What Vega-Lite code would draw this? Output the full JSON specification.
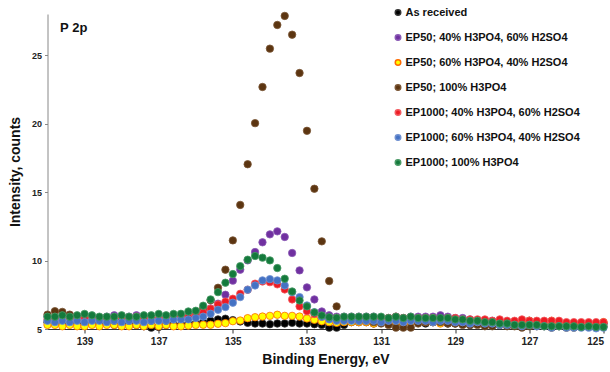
{
"$schema": "https://vega.github.io/schema/vega-lite/v6.json",
"width": 556,
"height": 315,
"autosize": {"type": "none"},
"padding": {"left": 47.5, "top": 14, "right": 6.5, "bottom": 43},
"background": "white",
"config": {"view": {"stroke": null}, "font": "Liberation Sans"},
"datasets": {
"names": [
{"s":0,"name":"As received"},{"s":1,"name":"EP50; 40% H3PO4, 60% H2SO4"},{"s":2,"name":"EP50; 60% H3PO4, 40% H2SO4"},{"s":3,"name":"EP50; 100% H3PO4"},{"s":4,"name":"EP1000; 40% H3PO4, 60% H2SO4"},{"s":5,"name":"EP1000; 60% H3PO4, 40% H2SO4"},{"s":6,"name":"EP1000; 100% H3PO4"}
],
"pts": [
{"e":140,"s":0,"v":5.5},{"e":139.8,"s":0,"v":5.4},{"e":139.6,"s":0,"v":5.5},{"e":139.4,"s":0,"v":5.4},{"e":139.2,"s":0,"v":5.5},{"e":139,"s":0,"v":5.4},{"e":138.8,"s":0,"v":5.4},{"e":138.6,"s":0,"v":5.5},{"e":138.4,"s":0,"v":5.4},{"e":138.2,"s":0,"v":5.3},{"e":138,"s":0,"v":5.4},{"e":137.8,"s":0,"v":5.3},{"e":137.6,"s":0,"v":5.3},{"e":137.4,"s":0,"v":5.2},{"e":137.2,"s":0,"v":5.1},{"e":137,"s":0,"v":5.15},{"e":136.8,"s":0,"v":5.3},{"e":136.6,"s":0,"v":5.3},
{"e":136.4,"s":0,"v":5.3},{"e":136.2,"s":0,"v":5.4},{"e":136,"s":0,"v":5.4},{"e":135.8,"s":0,"v":5.5},{"e":135.6,"s":0,"v":5.6},{"e":135.4,"s":0,"v":5.7},{"e":135.2,"s":0,"v":5.75},{"e":135,"s":0,"v":5.65},{"e":134.8,"s":0,"v":5.55},{"e":134.6,"s":0,"v":5.45},{"e":134.4,"s":0,"v":5.4},{"e":134.2,"s":0,"v":5.4},{"e":134,"s":0,"v":5.35},{"e":133.8,"s":0,"v":5.4},{"e":133.6,"s":0,"v":5.4},{"e":133.4,"s":0,"v":5.45},{"e":133.2,"s":0,"v":5.4},{"e":133,"s":0,"v":5.4},{"e":132.8,"s":0,"v":5.35},{"e":132.6,"s":0,"v":5.3},{"e":132.4,"s":0,"v":5.1},{"e":132.2,"s":0,"v":5.1},{"e":132,"s":0,"v":5.3},
{"e":131.8,"s":0,"v":5.5},{"e":131.6,"s":0,"v":5.5},{"e":131.4,"s":0,"v":5.5},{"e":131.2,"s":0,"v":5.4},{"e":131,"s":0,"v":5.5},{"e":130.8,"s":0,"v":5.5},{"e":130.6,"s":0,"v":5.4},{"e":130.4,"s":0,"v":5.4},{"e":130.2,"s":0,"v":5.5},{"e":130,"s":0,"v":5.5},{"e":129.8,"s":0,"v":5.4},{"e":129.6,"s":0,"v":5.5},{"e":129.4,"s":0,"v":5.5},{"e":129.2,"s":0,"v":5.4},{"e":129,"s":0,"v":5.4},{"e":128.8,"s":0,"v":5.4},{"e":128.6,"s":0,"v":5.3},{"e":128.4,"s":0,"v":5.4},{"e":128.2,"s":0,"v":5.3},{"e":128,"s":0,"v":5.4},{"e":127.8,"s":0,"v":5.3},{"e":127.6,"s":0,"v":5.5},{"e":127.4,"s":0,"v":5.4},{"e":127.2,"s":0,"v":5.5},{"e":127,"s":0,"v":5.6},{"e":126.8,"s":0,"v":5.4},{"e":126.6,"s":0,"v":5.3},{"e":126.4,"s":0,"v":5.4},{"e":126.2,"s":0,"v":5.4},{"e":126,"s":0,"v":5.3},{"e":125.8,"s":0,"v":5.3},{"e":125.6,"s":0,"v":5.4},{"e":125.4,"s":0,"v":5.3},{"e":125.2,"s":0,"v":5.3},{"e":125,"s":0,"v":5.4},

{"e":140,"s":1,"v":5.9},{"e":139.8,"s":1,"v":5.8},{"e":139.6,"s":1,"v":5.9},{"e":139.4,"s":1,"v":6.0},{"e":139.2,"s":1,"v":5.9},{"e":139,"s":1,"v":5.8},{"e":138.8,"s":1,"v":5.9},{"e":138.6,"s":1,"v":5.8},{"e":138.4,"s":1,"v":5.9},{"e":138.2,"s":1,"v":6.0},{"e":138,"s":1,"v":5.9},{"e":137.8,"s":1,"v":5.9},{"e":137.6,"s":1,"v":6.0},{"e":137.4,"s":1,"v":5.9},{"e":137.2,"s":1,"v":5.8},{"e":137,"s":1,"v":5.7},{"e":136.8,"s":1,"v":5.8},{"e":136.6,"s":1,"v":5.9},
{"e":136.4,"s":1,"v":5.9},{"e":136.2,"s":1,"v":6.0},{"e":136,"s":1,"v":6.1},{"e":135.8,"s":1,"v":6.3},{"e":135.6,"s":1,"v":6.5},{"e":135.4,"s":1,"v":6.85},{"e":135.2,"s":1,"v":7.5},{"e":135,"s":1,"v":8.53},{"e":134.8,"s":1,"v":9.33},{"e":134.6,"s":1,"v":10.01},{"e":134.4,"s":1,"v":10.62},{"e":134.2,"s":1,"v":11.33},{"e":134,"s":1,"v":11.91},{"e":133.8,"s":1,"v":12.13},{"e":133.6,"s":1,"v":11.72},{"e":133.4,"s":1,"v":10.55},{"e":133.2,"s":1,"v":9.28},{"e":133,"s":1,"v":8.04},{"e":132.8,"s":1,"v":7.16},{"e":132.6,"s":1,"v":6.28},{"e":132.4,"s":1,"v":6.0},{"e":132.2,"s":1,"v":5.9},{"e":132,"s":1,"v":5.9},
{"e":131.8,"s":1,"v":5.9},{"e":131.6,"s":1,"v":5.9},{"e":131.4,"s":1,"v":5.9},{"e":131.2,"s":1,"v":5.9},{"e":131,"s":1,"v":5.8},{"e":130.8,"s":1,"v":5.8},{"e":130.6,"s":1,"v":5.9},{"e":130.4,"s":1,"v":5.8},{"e":130.2,"s":1,"v":5.9},{"e":130,"s":1,"v":5.9},{"e":129.8,"s":1,"v":5.9},{"e":129.6,"s":1,"v":5.9},{"e":129.4,"s":1,"v":6.0},{"e":129.2,"s":1,"v":5.9},{"e":129,"s":1,"v":5.8},{"e":128.8,"s":1,"v":5.8},{"e":128.6,"s":1,"v":5.7},{"e":128.4,"s":1,"v":5.6},{"e":128.2,"s":1,"v":5.6},{"e":128,"s":1,"v":5.6},{"e":127.8,"s":1,"v":5.5},{"e":127.6,"s":1,"v":5.5},{"e":127.4,"s":1,"v":5.5},{"e":127.2,"s":1,"v":5.5},{"e":127,"s":1,"v":5.5},{"e":126.8,"s":1,"v":5.5},{"e":126.6,"s":1,"v":5.4},{"e":126.4,"s":1,"v":5.5},{"e":126.2,"s":1,"v":5.4},{"e":126,"s":1,"v":5.4},{"e":125.8,"s":1,"v":5.4},{"e":125.6,"s":1,"v":5.4},{"e":125.4,"s":1,"v":5.4},{"e":125.2,"s":1,"v":5.4},{"e":125,"s":1,"v":5.4},

{"e":140,"s":2,"v":5.3},{"e":139.8,"s":2,"v":5.3},{"e":139.6,"s":2,"v":5.2},{"e":139.4,"s":2,"v":5.3},{"e":139.2,"s":2,"v":5.2},{"e":139,"s":2,"v":5.2},{"e":138.8,"s":2,"v":5.3},{"e":138.6,"s":2,"v":5.2},{"e":138.4,"s":2,"v":5.3},{"e":138.2,"s":2,"v":5.3},{"e":138,"s":2,"v":5.2},{"e":137.8,"s":2,"v":5.2},{"e":137.6,"s":2,"v":5.3},{"e":137.4,"s":2,"v":5.2},{"e":137.2,"s":2,"v":5.3},{"e":137,"s":2,"v":5.2},{"e":136.8,"s":2,"v":5.3},{"e":136.6,"s":2,"v":5.2},
{"e":136.4,"s":2,"v":5.2},{"e":136.2,"s":2,"v":5.25},{"e":136,"s":2,"v":5.3},{"e":135.8,"s":2,"v":5.31},{"e":135.6,"s":2,"v":5.31},{"e":135.4,"s":2,"v":5.38},{"e":135.2,"s":2,"v":5.43},{"e":135,"s":2,"v":5.57},{"e":134.8,"s":2,"v":5.62},{"e":134.6,"s":2,"v":5.79},{"e":134.4,"s":2,"v":5.86},{"e":134.2,"s":2,"v":5.91},{"e":134,"s":2,"v":5.96},{"e":133.8,"s":2,"v":6.04},{"e":133.6,"s":2,"v":5.96},{"e":133.4,"s":2,"v":5.96},{"e":133.2,"s":2,"v":5.91},{"e":133,"s":2,"v":5.77},{"e":132.8,"s":2,"v":5.67},{"e":132.6,"s":2,"v":5.57},{"e":132.4,"s":2,"v":5.5},{"e":132.2,"s":2,"v":5.45},{"e":132,"s":2,"v":5.5},
{"e":131.8,"s":2,"v":5.5},{"e":131.6,"s":2,"v":5.5},{"e":131.4,"s":2,"v":5.5},{"e":131.2,"s":2,"v":5.4},{"e":131,"s":2,"v":5.5},{"e":130.8,"s":2,"v":5.5},{"e":130.6,"s":2,"v":5.5},{"e":130.4,"s":2,"v":5.4},{"e":130.2,"s":2,"v":5.5},{"e":130,"s":2,"v":5.5},{"e":129.8,"s":2,"v":5.5},{"e":129.6,"s":2,"v":5.5},{"e":129.4,"s":2,"v":5.4},{"e":129.2,"s":2,"v":5.5},{"e":129,"s":2,"v":5.5},{"e":128.8,"s":2,"v":5.4},{"e":128.6,"s":2,"v":5.5},{"e":128.4,"s":2,"v":5.4},{"e":128.2,"s":2,"v":5.5},{"e":128,"s":2,"v":5.4},{"e":127.8,"s":2,"v":5.4},{"e":127.6,"s":2,"v":5.4},{"e":127.4,"s":2,"v":5.5},{"e":127.2,"s":2,"v":5.4},{"e":127,"s":2,"v":5.6},{"e":126.8,"s":2,"v":5.4},{"e":126.6,"s":2,"v":5.4},{"e":126.4,"s":2,"v":5.6},{"e":126.2,"s":2,"v":5.4},{"e":126,"s":2,"v":5.4},{"e":125.8,"s":2,"v":5.4},{"e":125.6,"s":2,"v":5.4},{"e":125.4,"s":2,"v":5.4},{"e":125.2,"s":2,"v":5.4},{"e":125,"s":2,"v":5.5},

{"e":140,"s":3,"v":6.05},{"e":139.8,"s":3,"v":6.3},{"e":139.6,"s":3,"v":6.25},{"e":139.4,"s":3,"v":6.05},{"e":139.2,"s":3,"v":5.8},{"e":139,"s":3,"v":5.8},{"e":138.8,"s":3,"v":5.7},{"e":138.6,"s":3,"v":5.8},{"e":138.4,"s":3,"v":5.7},{"e":138.2,"s":3,"v":5.6},{"e":138,"s":3,"v":5.7},{"e":137.8,"s":3,"v":5.6},{"e":137.6,"s":3,"v":5.7},{"e":137.4,"s":3,"v":5.6},{"e":137.2,"s":3,"v":5.6},{"e":137,"s":3,"v":5.7},{"e":136.8,"s":3,"v":5.6},{"e":136.6,"s":3,"v":5.7},
{"e":136.4,"s":3,"v":5.8},{"e":136.2,"s":3,"v":5.9},{"e":136,"s":3,"v":6.1},{"e":135.8,"s":3,"v":6.5},{"e":135.6,"s":3,"v":7.1},{"e":135.4,"s":3,"v":8.01},{"e":135.2,"s":3,"v":9.33},{"e":135,"s":3,"v":11.47},{"e":134.8,"s":3,"v":14.06},{"e":134.6,"s":3,"v":17.03},{"e":134.4,"s":3,"v":20.03},{"e":134.2,"s":3,"v":22.67},{"e":134,"s":3,"v":25.47},{"e":133.8,"s":3,"v":27.2},{"e":133.6,"s":3,"v":27.86},{"e":133.4,"s":3,"v":26.49},{"e":133.2,"s":3,"v":23.69},{"e":133,"s":3,"v":19.47},{"e":132.8,"s":3,"v":15.24},{"e":132.6,"s":3,"v":11.4},{"e":132.4,"s":3,"v":8.5},{"e":132.2,"s":3,"v":6.65},{"e":132,"s":3,"v":5.7},
{"e":131.8,"s":3,"v":5.7},{"e":131.6,"s":3,"v":5.6},{"e":131.4,"s":3,"v":5.6},{"e":131.2,"s":3,"v":5.5},{"e":131,"s":3,"v":5.4},{"e":130.8,"s":3,"v":5.3},{"e":130.6,"s":3,"v":5.1},{"e":130.4,"s":3,"v":5.1},{"e":130.2,"s":3,"v":5.1},{"e":130,"s":3,"v":5.4},{"e":129.8,"s":3,"v":5.5},{"e":129.6,"s":3,"v":5.5},{"e":129.4,"s":3,"v":5.5},{"e":129.2,"s":3,"v":5.4},{"e":129,"s":3,"v":5.4},{"e":128.8,"s":3,"v":5.3},{"e":128.6,"s":3,"v":5.3},{"e":128.4,"s":3,"v":5.3},{"e":128.2,"s":3,"v":5.2},{"e":128,"s":3,"v":5.2},{"e":127.8,"s":3,"v":5.3},{"e":127.6,"s":3,"v":5.2},{"e":127.4,"s":3,"v":5.2},{"e":127.2,"s":3,"v":5.1},{"e":127,"s":3,"v":5.2},{"e":126.8,"s":3,"v":5.2},{"e":126.6,"s":3,"v":5.2},{"e":126.4,"s":3,"v":5.1},{"e":126.2,"s":3,"v":5.2},{"e":126,"s":3,"v":5.1},{"e":125.8,"s":3,"v":5.1},{"e":125.6,"s":3,"v":5.2},{"e":125.4,"s":3,"v":5.2},{"e":125.2,"s":3,"v":5.2},{"e":125,"s":3,"v":5.2},

{"e":140,"s":4,"v":5.7},{"e":139.8,"s":4,"v":5.6},{"e":139.6,"s":4,"v":5.7},{"e":139.4,"s":4,"v":5.8},{"e":139.2,"s":4,"v":5.7},{"e":139,"s":4,"v":5.8},{"e":138.8,"s":4,"v":5.7},{"e":138.6,"s":4,"v":5.8},{"e":138.4,"s":4,"v":5.7},{"e":138.2,"s":4,"v":5.8},{"e":138,"s":4,"v":5.9},{"e":137.8,"s":4,"v":5.8},{"e":137.6,"s":4,"v":5.9},{"e":137.4,"s":4,"v":5.8},{"e":137.2,"s":4,"v":5.8},{"e":137,"s":4,"v":5.7},{"e":136.8,"s":4,"v":5.8},{"e":136.6,"s":4,"v":5.8},
{"e":136.4,"s":4,"v":5.8},{"e":136.2,"s":4,"v":5.9},{"e":136,"s":4,"v":6.0},{"e":135.8,"s":4,"v":6.2},{"e":135.6,"s":4,"v":6.48},{"e":135.4,"s":4,"v":6.79},{"e":135.2,"s":4,"v":7.0},{"e":135,"s":4,"v":7.21},{"e":134.8,"s":4,"v":7.57},{"e":134.6,"s":4,"v":7.87},{"e":134.4,"s":4,"v":8.31},{"e":134.2,"s":4,"v":8.47},{"e":134,"s":4,"v":8.42},{"e":133.8,"s":4,"v":8.26},{"e":133.6,"s":4,"v":7.89},{"e":133.4,"s":4,"v":7.16},{"e":133.2,"s":4,"v":6.65},{"e":133,"s":4,"v":6.3},{"e":132.8,"s":4,"v":6.1},{"e":132.6,"s":4,"v":5.9},{"e":132.4,"s":4,"v":5.8},{"e":132.2,"s":4,"v":5.8},{"e":132,"s":4,"v":5.8},
{"e":131.8,"s":4,"v":5.8},{"e":131.6,"s":4,"v":5.8},{"e":131.4,"s":4,"v":5.8},{"e":131.2,"s":4,"v":5.8},{"e":131,"s":4,"v":5.8},{"e":130.8,"s":4,"v":5.8},{"e":130.6,"s":4,"v":5.9},{"e":130.4,"s":4,"v":5.8},{"e":130.2,"s":4,"v":5.8},{"e":130,"s":4,"v":5.8},{"e":129.8,"s":4,"v":5.8},{"e":129.6,"s":4,"v":5.8},{"e":129.4,"s":4,"v":5.7},{"e":129.2,"s":4,"v":5.8},{"e":129,"s":4,"v":5.8},{"e":128.8,"s":4,"v":5.7},{"e":128.6,"s":4,"v":5.7},{"e":128.4,"s":4,"v":5.7},{"e":128.2,"s":4,"v":5.7},{"e":128,"s":4,"v":5.6},{"e":127.8,"s":4,"v":5.7},{"e":127.6,"s":4,"v":5.6},{"e":127.4,"s":4,"v":5.6},{"e":127.2,"s":4,"v":5.7},{"e":127,"s":4,"v":5.6},{"e":126.8,"s":4,"v":5.6},{"e":126.6,"s":4,"v":5.6},{"e":126.4,"s":4,"v":5.6},{"e":126.2,"s":4,"v":5.6},{"e":126,"s":4,"v":5.5},{"e":125.8,"s":4,"v":5.5},{"e":125.6,"s":4,"v":5.5},{"e":125.4,"s":4,"v":5.5},{"e":125.2,"s":4,"v":5.5},{"e":125,"s":4,"v":5.5},

{"e":140,"s":5,"v":5.6},{"e":139.8,"s":5,"v":5.5},{"e":139.6,"s":5,"v":5.6},{"e":139.4,"s":5,"v":5.5},{"e":139.2,"s":5,"v":5.6},{"e":139,"s":5,"v":5.5},{"e":138.8,"s":5,"v":5.6},{"e":138.6,"s":5,"v":5.6},{"e":138.4,"s":5,"v":5.5},{"e":138.2,"s":5,"v":5.6},{"e":138,"s":5,"v":5.5},{"e":137.8,"s":5,"v":5.6},{"e":137.6,"s":5,"v":5.6},{"e":137.4,"s":5,"v":5.5},{"e":137.2,"s":5,"v":5.6},{"e":137,"s":5,"v":5.6},{"e":136.8,"s":5,"v":5.6},{"e":136.6,"s":5,"v":5.7},
{"e":136.4,"s":5,"v":5.7},{"e":136.2,"s":5,"v":5.7},{"e":136,"s":5,"v":5.8},{"e":135.8,"s":5,"v":5.9},{"e":135.6,"s":5,"v":6.11},{"e":135.4,"s":5,"v":6.4},{"e":135.2,"s":5,"v":6.6},{"e":135,"s":5,"v":6.92},{"e":134.8,"s":5,"v":7.33},{"e":134.6,"s":5,"v":7.87},{"e":134.4,"s":5,"v":8.18},{"e":134.2,"s":5,"v":8.55},{"e":134,"s":5,"v":8.64},{"e":133.8,"s":5,"v":8.55},{"e":133.6,"s":5,"v":8.18},{"e":133.4,"s":5,"v":7.69},{"e":133.2,"s":5,"v":7.33},{"e":133,"s":5,"v":6.72},{"e":132.8,"s":5,"v":6.23},{"e":132.6,"s":5,"v":5.9},{"e":132.4,"s":5,"v":5.7},{"e":132.2,"s":5,"v":5.6},{"e":132,"s":5,"v":5.6},
{"e":131.8,"s":5,"v":5.6},{"e":131.6,"s":5,"v":5.6},{"e":131.4,"s":5,"v":5.6},{"e":131.2,"s":5,"v":5.6},{"e":131,"s":5,"v":5.5},{"e":130.8,"s":5,"v":5.6},{"e":130.6,"s":5,"v":5.6},{"e":130.4,"s":5,"v":5.5},{"e":130.2,"s":5,"v":5.6},{"e":130,"s":5,"v":5.6},{"e":129.8,"s":5,"v":5.6},{"e":129.6,"s":5,"v":5.5},{"e":129.4,"s":5,"v":5.6},{"e":129.2,"s":5,"v":5.6},{"e":129,"s":5,"v":5.5},{"e":128.8,"s":5,"v":5.5},{"e":128.6,"s":5,"v":5.4},{"e":128.4,"s":5,"v":5.5},{"e":128.2,"s":5,"v":5.4},{"e":128,"s":5,"v":5.4},{"e":127.8,"s":5,"v":5.3},{"e":127.6,"s":5,"v":5.3},{"e":127.4,"s":5,"v":5.3},{"e":127.2,"s":5,"v":5.2},{"e":127,"s":5,"v":5.3},{"e":126.8,"s":5,"v":5.2},{"e":126.6,"s":5,"v":5.2},{"e":126.4,"s":5,"v":5.1},{"e":126.2,"s":5,"v":5.2},{"e":126,"s":5,"v":5.1},{"e":125.8,"s":5,"v":5.1},{"e":125.6,"s":5,"v":5.1},{"e":125.4,"s":5,"v":5.1},{"e":125.2,"s":5,"v":5.05},{"e":125,"s":5,"v":5.1},

{"e":140,"s":6,"v":5.9},{"e":139.8,"s":6,"v":5.9},{"e":139.6,"s":6,"v":6.0},{"e":139.4,"s":6,"v":5.9},{"e":139.2,"s":6,"v":6.0},{"e":139,"s":6,"v":6.1},{"e":138.8,"s":6,"v":6.0},{"e":138.6,"s":6,"v":5.9},{"e":138.4,"s":6,"v":5.9},{"e":138.2,"s":6,"v":5.9},{"e":138,"s":6,"v":6.0},{"e":137.8,"s":6,"v":5.9},{"e":137.6,"s":6,"v":5.9},{"e":137.4,"s":6,"v":6.0},{"e":137.2,"s":6,"v":6.0},{"e":137,"s":6,"v":6.1},{"e":136.8,"s":6,"v":6.0},{"e":136.6,"s":6,"v":6.1},
{"e":136.4,"s":6,"v":6.11},{"e":136.2,"s":6,"v":6.28},{"e":136,"s":6,"v":6.33},{"e":135.8,"s":6,"v":6.7},{"e":135.6,"s":6,"v":7.16},{"e":135.4,"s":6,"v":7.69},{"e":135.2,"s":6,"v":8.38},{"e":135,"s":6,"v":9.01},{"e":134.8,"s":6,"v":9.59},{"e":134.6,"s":6,"v":10.06},{"e":134.4,"s":6,"v":10.33},{"e":134.2,"s":6,"v":10.21},{"e":134,"s":6,"v":10.01},{"e":133.8,"s":6,"v":9.45},{"e":133.6,"s":6,"v":8.67},{"e":133.4,"s":6,"v":7.74},{"e":133.2,"s":6,"v":7.08},{"e":133,"s":6,"v":6.65},{"e":132.8,"s":6,"v":6.21},{"e":132.6,"s":6,"v":5.99},{"e":132.4,"s":6,"v":5.86},{"e":132.2,"s":6,"v":5.82},{"e":132,"s":6,"v":5.9},
{"e":131.8,"s":6,"v":5.9},{"e":131.6,"s":6,"v":5.9},{"e":131.4,"s":6,"v":5.9},{"e":131.2,"s":6,"v":5.9},{"e":131,"s":6,"v":5.9},{"e":130.8,"s":6,"v":5.8},{"e":130.6,"s":6,"v":5.9},{"e":130.4,"s":6,"v":5.8},{"e":130.2,"s":6,"v":5.9},{"e":130,"s":6,"v":5.8},{"e":129.8,"s":6,"v":5.8},{"e":129.6,"s":6,"v":5.8},{"e":129.4,"s":6,"v":5.8},{"e":129.2,"s":6,"v":5.8},{"e":129,"s":6,"v":5.7},{"e":128.8,"s":6,"v":5.7},{"e":128.6,"s":6,"v":5.6},{"e":128.4,"s":6,"v":5.6},{"e":128.2,"s":6,"v":5.5},{"e":128,"s":6,"v":5.5},{"e":127.8,"s":6,"v":5.4},{"e":127.6,"s":6,"v":5.4},{"e":127.4,"s":6,"v":5.3},{"e":127.2,"s":6,"v":5.3},{"e":127,"s":6,"v":5.3},{"e":126.8,"s":6,"v":5.3},{"e":126.6,"s":6,"v":5.2},{"e":126.4,"s":6,"v":5.2},{"e":126.2,"s":6,"v":5.2},{"e":126,"s":6,"v":5.2},{"e":125.8,"s":6,"v":5.2},{"e":125.6,"s":6,"v":5.15},{"e":125.4,"s":6,"v":5.2},{"e":125.2,"s":6,"v":5.15},{"e":125,"s":6,"v":5.15}
]
},
"layer": [
{
"data": {"name": "pts"},
"transform": [{"lookup": "s", "from": {"data": {"name": "names"}, "key": "s", "fields": ["name"]}}],
"mark": {"type": "point", "filled": true, "size": 55, "opacity": 1, "strokeWidth": 0.8, "strokeOpacity": 1},
"encoding": {
"x": {"field": "e", "type": "quantitative", "scale": {"domain": [125, 140], "reverse": true, "nice": false, "zero": false},
"axis": {"title": "Binding Energy, eV", "values": [139, 137, 135, 133, 131, 129, 127, 125], "format": "d", "grid": false, "labelFontSize": 10, "labelFontWeight": "bold", "labelColor": "#222", "labelPadding": 3, "tickSize": 4, "tickColor": "#333", "domainColor": "#333", "titleFontSize": 14, "titleFontWeight": "bold", "titleColor": "#111", "titlePadding": 6, "labelFont": "Liberation Sans", "titleFont": "Liberation Sans"}},
"y": {"field": "v", "type": "quantitative", "scale": {"domain": [5, 28], "nice": false, "zero": false},
"axis": {"title": "Intensity, counts", "values": [5, 10, 15, 20, 25], "grid": false, "labelFontSize": 9, "labelFontWeight": "bold", "labelColor": "#222", "labelPadding": 3, "tickSize": 3, "tickColor": "#888", "domainColor": "#888", "titleFontSize": 14, "titleFontWeight": "bold", "titleColor": "#111", "titlePadding": 9, "labelFont": "Liberation Sans", "titleFont": "Liberation Sans"}},
"color": {"field": "name", "type": "nominal",
"scale": {"domain": ["As received", "EP50; 40% H3PO4, 60% H2SO4", "EP50; 60% H3PO4, 40% H2SO4", "EP50; 100% H3PO4", "EP1000; 40% H3PO4, 60% H2SO4", "EP1000; 60% H3PO4, 40% H2SO4", "EP1000; 100% H3PO4"],
"range": ["#000000", "#7030A0", "#FFFF00", "#5C3511", "#ED1C24", "#4472C4", "#147A3C"]},
"legend": {"orient": "none", "legendX": 345, "legendY": -7, "title": null, "labelFont": "Liberation Sans", "labelFontWeight": "bold", "labelFontSize": 11, "labelColor": "#111", "labelLimit": 0, "symbolSize": 30, "symbolType": "circle", "rowPadding": 12, "labelOffset": 2}},
"stroke": {"field": "name", "type": "nominal",
"scale": {"domain": ["As received", "EP50; 40% H3PO4, 60% H2SO4", "EP50; 60% H3PO4, 40% H2SO4", "EP50; 100% H3PO4", "EP1000; 40% H3PO4, 60% H2SO4", "EP1000; 60% H3PO4, 40% H2SO4", "EP1000; 100% H3PO4"],
"range": ["#333333", "#8a5ab5", "#FF6A00", "#7a5535", "#f25a60", "#7090d0", "#4a9a66"]},
"legend": {"orient": "none", "legendX": 345, "legendY": -7, "title": null, "labelFont": "Liberation Sans", "labelFontWeight": "bold", "labelFontSize": 11, "labelColor": "#111", "labelLimit": 0, "symbolSize": 30, "symbolType": "circle", "rowPadding": 12, "labelOffset": 2}}
}
},
{
"data": {"values": [{"e": 139.66, "v": 27.0, "t": "P 2p"}]},
"mark": {"type": "text", "align": "left", "baseline": "middle", "fontWeight": "bold", "fontSize": 13, "font": "Liberation Sans", "color": "#111"},
"encoding": {
"x": {"field": "e", "type": "quantitative"},
"y": {"field": "v", "type": "quantitative"},
"text": {"field": "t", "type": "nominal"}
}
}
]
}
